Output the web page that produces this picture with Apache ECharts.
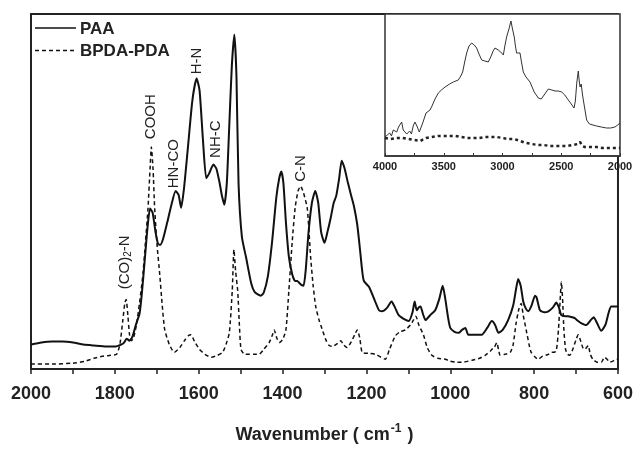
<!DOCTYPE html>
<html><head><meta charset="utf-8">
<script src="https://cdn.jsdelivr.net/npm/echarts@6/dist/echarts.min.js"></script>
<style>html,body{margin:0;padding:0;background:#fff}#c{width:636px;height:449px}</style>
</head><body><div id="c"></div>
<script>
// Main spectrum (wavenumber cm-1, arbitrary absorbance units)
const paaWn = [2000,1975,1950,1925,1900,1875,1850,1820,1800,1785,1778,1772,1765,1758,1750,1741,1735,1728,1722,1716,1710,1703,1697,1692,1685,1675,1665,1655,1648,1642,1635,1625,1615,1605,1598,1590,1582,1575,1565,1558,1550,1545,1539,1533,1527,1521,1515,1510,1505,1497,1487,1475,1467,1458,1452,1445,1435,1425,1415,1408,1403,1398,1392,1385,1377,1370,1365,1360,1355,1350,1345,1338,1330,1322,1315,1308,1300,1293,1285,1278,1272,1265,1259,1252,1245,1238,1230,1222,1216,1210,1206,1194,1180,1170,1163,1152,1140,1132,1123,1110,1099,1090,1085,1080,1075,1071,1065,1059,1048,1036,1026,1018,1012,1005,1000,990,980,972,964,957,940,925,912,901,893,885,875,862,850,843,838,832,826,820,814,806,798,794,786,775,766,755,747,741,735,725,719,710,703,695,688,676,665,658,650,640,630,622,616,600];
const paaVal = [25,27,28,28,27,25,24,23,23,25,27,31,29,33,45,57,80,115,145,164,160,140,128,127,133,150,168,182,178,165,185,230,275,297,285,235,195,200,209,205,190,178,168,190,250,310,342,300,190,135,114,88,79,76,75,78,95,130,175,195,202,190,150,115,97,90,90,88,86,85,100,140,170,182,170,140,129,140,155,170,177,195,213,205,192,180,167,148,125,100,90,84,70,60,59,62,69,63,55,51,49,58,69,60,63,64,56,50,55,60,72,85,72,52,42,38,37,40,42,35,35,35,42,49,45,37,40,50,65,82,92,85,69,62,59,65,75,73,60,58,59,63,68,63,55,54,54,53,52,49,47,45,50,53,47,39,45,58,64,64];
const bpdaWn = [2000,1950,1900,1870,1850,1830,1810,1796,1788,1781,1776,1773,1769,1765,1761,1756,1749,1741,1733,1727,1721,1716,1713,1709,1705,1699,1693,1687,1681,1670,1658,1645,1634,1625,1618,1610,1598,1585,1570,1555,1543,1535,1527,1520,1516,1512,1507,1503,1499,1490,1479,1465,1456,1445,1432,1424,1420,1414,1408,1400,1392,1385,1377,1370,1363,1357,1350,1341,1333,1327,1321,1313,1305,1297,1289,1280,1273,1266,1261,1255,1246,1236,1228,1222,1216,1210,1195,1178,1165,1155,1145,1131,1120,1107,1095,1088,1082,1075,1064,1055,1044,1030,1012,1000,988,970,948,930,917,905,901,895,889,885,881,870,857,850,843,836,831,826,819,812,807,797,791,780,766,760,753,747,742,738,735,732,729,725,720,715,708,700,695,690,684,679,675,671,666,660,650,640,632,626,620,612,604,600];
const bpdaVal = [5,5,6,8,11,13,14,15,25,50,68,71,55,35,29,31,44,68,97,130,164,205,227,205,164,125,97,65,40,25,17,22,29,34,35,28,20,15,12,14,17,25,37,80,122,100,80,45,20,15,15,15,15,20,27,35,40,32,27,30,40,80,130,165,182,187,180,164,114,85,64,50,40,30,24,23,25,27,29,25,22,28,35,40,32,17,16,15,12,10,20,34,38,40,45,50,54,45,35,22,14,11,10,8,7,7,9,11,14,18,20,22,27,20,14,15,17,25,47,62,67,55,40,25,17,12,10,13,15,17,17,19,40,70,89,70,40,20,15,14,20,30,35,30,22,20,22,24,15,10,7,7,12,10,7,8,10,10];
// Inset spectrum 4000-2000 cm-1
const insPaaWn = [4000,3980,3960,3945,3930,3915,3900,3885,3870,3858,3845,3830,3815,3801,3790,3775,3760,3745,3739,3725,3708,3695,3679,3665,3651,3635,3617,3600,3589,3570,3546,3520,3489,3450,3419,3376,3355,3339,3320,3305,3285,3262,3240,3220,3200,3177,3150,3121,3100,3080,3064,3050,3036,3015,2993,2980,2965,2945,2928,2915,2900,2890,2880,2865,2851,2840,2823,2800,2766,2730,2695,2670,2640,2610,2580,2553,2525,2496,2470,2440,2415,2391,2380,2368,2355,2347,2340,2330,2320,2312,2298,2284,2260,2230,2199,2160,2114,2080,2043,2020,2000];
const insPaaVal = [19,21,23,20,26,28,24,29,31,34,26,28,22,23,25,22,30,34,36,29,24,28,33,38,43,42,46,50,53,58,63,66,69,72,74,76,80,84,95,103,110,113,111,108,102,96,95,94,99,105,108,107,106,104,101,110,119,127,135,127,119,110,103,104,103,95,84,79,74,64,58,57,62,67,66,65,65,64,61,56,52,48,55,73,85,75,69,72,62,56,46,36,32,31,30,29,28,28,29,31,33];
const insBpdaWn = [4000,3950,3900,3850,3800,3750,3700,3650,3600,3550,3500,3450,3400,3350,3300,3250,3200,3150,3100,3050,3000,2950,2900,2850,2800,2750,2700,2650,2600,2550,2500,2450,2400,2360,2340,2320,2300,2250,2200,2150,2100,2050,2000];
const insBpdaVal = [18,17,18,18,17,16,15,18,19,20,20,20,20,19,18,18,18,19,19,19,18,17,17,15,13,12,11,11,10,10,10,10,11,12,14,10,9,9,9,8,8,8,8];
const seriesNames = ['PAA','BPDA-PDA'];
const mainTicks = [600,2000,200];
const insetTicks = [2000,4000,500];
const annotations = [
  {text:'(CO){s|2}-N', wn:1777, v:109},
  {text:'COOH', wn:1715, v:258},
  {text:'HN-CO', wn:1660, v:210},
  {text:'H-N', wn:1605, v:315},
  {text:'NH-C', wn:1558, v:235},
  {text:'C-N', wn:1356, v:205}
];

const FONT = '"Liberation Sans", Arial, sans-serif';
const zip = (a,b)=>a.map((x,i)=>[x,b[i]]);
const lineStyles = [
  {color:'#111', width:2},
  {color:'#111', width:1.5, type:[4,3]}
];
const chart = echarts.init(document.getElementById('c'));
const option = {
  animation:false,
  backgroundColor:'#fff',
  grid:[
    {left:31, right:16, top:14, bottom:72, show:true, borderColor:'#222', borderWidth:2},
    {left:385, right:16, top:14, bottom:293, show:true, backgroundColor:'#fff', borderColor:'#333', borderWidth:1.5, z:5}
  ],
  xAxis:[
    {gridIndex:0, type:'value', inverse:true, min:mainTicks[0], max:mainTicks[1], interval:mainTicks[2],
     axisLine:{lineStyle:{color:'#222', width:2}},
     axisTick:{inside:false, length:5, lineStyle:{color:'#222', width:1.5}},
     minorTick:{show:true, splitNumber:2, length:5, lineStyle:{color:'#222', width:1.5}},
     splitLine:{show:false},
     axisLabel:{fontFamily:FONT, fontWeight:'bold', fontSize:18, color:'#222', margin:16, formatter:v=>String(v)},
     name:'{a|Wavenumber ( cm}{s|-1}{a| )}', nameLocation:'middle', nameGap:54,
     nameTextStyle:{rich:{
       a:{fontFamily:FONT, fontWeight:'bold', fontSize:18, color:'#222'},
       s:{fontFamily:FONT, fontWeight:'bold', fontSize:12, color:'#222', padding:[0,1,12,1]}
     }}},
    {gridIndex:1, type:'value', inverse:true, min:insetTicks[0], max:insetTicks[1], interval:insetTicks[2],
     axisLine:{lineStyle:{color:'#333', width:1.5}},
     axisTick:{inside:true, length:3, lineStyle:{color:'#333'}},
     minorTick:{show:true, splitNumber:2, length:3, lineStyle:{color:'#333'}},
     splitLine:{show:false},
     axisLabel:{fontFamily:FONT, fontWeight:'bold', fontSize:11, color:'#222', margin:5, formatter:v=>String(v)}, z:6}
  ],
  yAxis:[
    {gridIndex:0, type:'value', min:0, max:363, show:false},
    {gridIndex:1, type:'value', min:0, max:142, show:false}
  ],
  series:[
    {name:seriesNames[0], type:'line', xAxisIndex:0, yAxisIndex:0, data:zip(paaWn,paaVal), symbol:'none', smooth:0.2,
     lineStyle:lineStyles[0]},
    {name:seriesNames[1], type:'line', xAxisIndex:0, yAxisIndex:0, data:zip(bpdaWn,bpdaVal), symbol:'none', smooth:0.2,
     lineStyle:lineStyles[1]},
    {name:seriesNames[0], type:'line', xAxisIndex:1, yAxisIndex:1, data:zip(insPaaWn,insPaaVal), symbol:'none', z:7,
     lineStyle:{color:'#333', width:1}},
    {name:seriesNames[1], type:'line', xAxisIndex:1, yAxisIndex:1, data:zip(insBpdaWn,insBpdaVal), symbol:'none', z:7,
     lineStyle:{color:'#222', width:2.5, type:[3,3]}}
  ]
};
chart.setOption(option);
const g = annotations.map(a=>{
  const p = chart.convertToPixel({gridIndex:0},[a.wn,a.v]);
  return {type:'text', x:p[0], y:p[1], rotation:Math.PI/2, z:10,
    style:{text:a.text, fontFamily:FONT, fontSize:15, fill:'#222', align:'center', verticalAlign:'middle',
      rich:{s:{fontFamily:FONT, fontSize:10, fill:'#222', padding:[7,0,0,0]}}}};
});
// Legend (line sample + label)
seriesNames.forEach((n,i)=>{
  const y = 28 + i*22.5;
  g.push({type:'line', z:10, shape:{x1:35, y1:y, x2:76, y2:y},
    style:{stroke:lineStyles[i].color, lineWidth:1.5, lineDash:lineStyles[i].type || null}});
  g.push({type:'text', z:10, x:80, y:y+1, style:{text:n, fontFamily:FONT, fontWeight:'bold', fontSize:17, fill:'#222', align:'left', verticalAlign:'middle'}});
});
chart.setOption({graphic:g});
</script></body></html>
